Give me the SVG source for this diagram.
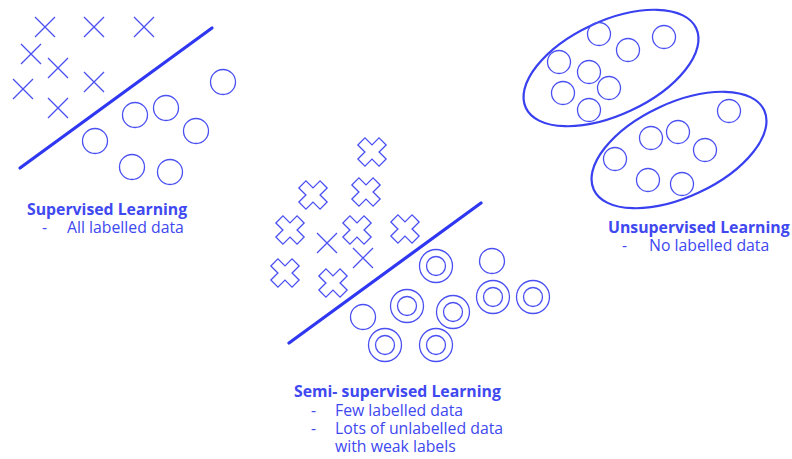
<svg xmlns="http://www.w3.org/2000/svg" xmlns:xlink="http://www.w3.org/1999/xlink" width="792" height="459" viewBox="0 0 792 459">
  <style>
    .thin { fill: none; stroke: #4a50f2; stroke-width: 1.3; }
    .rim { fill: none; stroke: #3840f0; stroke-width: 2.2; }
    .divider { fill: none; stroke: #2f38f0; stroke-width: 3.2; stroke-linecap: round; }
    .title { font-family: "Open Sans", "Noto Sans", "Liberation Sans", sans-serif; font-weight: 700; font-size: 15.8px; fill: #4048f0; }
    .item { font-family: "Open Sans", "Noto Sans", "Liberation Sans", sans-serif; font-size: 15.8px; fill: #4048f0; }
  </style>
  <defs>
    <!-- thin X mark -->
    <path id="xmark" class="thin" d="M-10,-10 L10,10 M10,-10 L-10,10"/>
    <!-- chunky outlined cross (a plus rotated 45 degrees) -->
    <path id="bigx" class="thin" transform="rotate(45)" d="M-5,-15 L5,-15 L5,-5 L15,-5 L15,5 L5,5 L5,15 L-5,15 L-5,5 L-15,5 L-15,-5 L-5,-5 Z"/>
    <circle id="dot" class="thin" r="12.5"/>
    <circle id="dotS" class="thin" r="11.5"/>
    <g id="ring">
      <circle class="thin" r="16.5"/>
      <circle class="thin" r="9.5"/>
    </g>
  </defs>

  <rect width="792" height="459" fill="#ffffff"/>

  <!-- Supervised learning -->
  <g id="supervised">
    <use xlink:href="#xmark" x="45" y="27"/>
    <use xlink:href="#xmark" x="94" y="27"/>
    <use xlink:href="#xmark" x="144" y="27"/>
    <use xlink:href="#xmark" x="31" y="54"/>
    <use xlink:href="#xmark" x="58" y="68"/>
    <use xlink:href="#xmark" x="23" y="89"/>
    <use xlink:href="#xmark" x="94" y="82"/>
    <use xlink:href="#xmark" x="58" y="108"/>
    <line class="divider" x1="20" y1="168" x2="212" y2="28"/>
    <use xlink:href="#dot" x="223" y="82"/>
    <use xlink:href="#dot" x="135" y="115"/>
    <use xlink:href="#dot" x="166" y="108"/>
    <use xlink:href="#dot" x="196" y="131"/>
    <use xlink:href="#dot" x="95" y="141"/>
    <use xlink:href="#dot" x="132" y="167"/>
    <use xlink:href="#dot" x="170" y="172"/>
    <text class="title" x="27" y="215">Supervised Learning</text>
    <text class="item" x="42" y="233">-</text>
    <text class="item" x="67" y="233">All labelled data</text>
  </g>

  <!-- Unsupervised learning -->
  <g id="unsupervised">
    <ellipse class="rim" cx="611" cy="68" rx="94" ry="47" transform="rotate(-25 611 68)"/>
    <ellipse class="rim" cx="679" cy="150" rx="94" ry="47" transform="rotate(-25 679 150)"/>
    <use xlink:href="#dotS" x="599" y="34"/>
    <use xlink:href="#dotS" x="628" y="50"/>
    <use xlink:href="#dotS" x="664" y="37"/>
    <use xlink:href="#dotS" x="559" y="62"/>
    <use xlink:href="#dotS" x="589" y="72"/>
    <use xlink:href="#dotS" x="609" y="88"/>
    <use xlink:href="#dotS" x="563" y="93"/>
    <use xlink:href="#dotS" x="589" y="110"/>
    <use xlink:href="#dotS" x="729" y="111"/>
    <use xlink:href="#dotS" x="651" y="138"/>
    <use xlink:href="#dotS" x="678" y="132"/>
    <use xlink:href="#dotS" x="705" y="150"/>
    <use xlink:href="#dotS" x="615" y="159"/>
    <use xlink:href="#dotS" x="648" y="180"/>
    <use xlink:href="#dotS" x="682" y="184"/>
    <text class="title" x="608" y="233">Unsupervised Learning</text>
    <text class="item" x="622" y="251">-</text>
    <text class="item" x="649" y="251">No labelled data</text>
  </g>

  <!-- Semi-supervised learning -->
  <g id="semi-supervised">
    <use xlink:href="#bigx" x="372" y="152"/>
    <use xlink:href="#bigx" x="313" y="195"/>
    <use xlink:href="#bigx" x="366" y="192"/>
    <use xlink:href="#bigx" x="290" y="230"/>
    <use xlink:href="#bigx" x="357" y="230"/>
    <use xlink:href="#bigx" x="405" y="229"/>
    <use xlink:href="#bigx" x="285" y="273"/>
    <use xlink:href="#bigx" x="333" y="283"/>
    <use xlink:href="#xmark" x="327" y="243"/>
    <use xlink:href="#xmark" x="363" y="258"/>
    <line class="divider" x1="289" y1="343" x2="481" y2="203"/>
    <use xlink:href="#dot" x="363" y="317"/>
    <use xlink:href="#dot" x="492" y="261"/>
    <use xlink:href="#ring" x="436" y="266"/>
    <use xlink:href="#ring" x="407" y="306"/>
    <use xlink:href="#ring" x="453" y="312"/>
    <use xlink:href="#ring" x="493" y="297"/>
    <use xlink:href="#ring" x="533" y="297"/>
    <use xlink:href="#ring" x="385" y="345"/>
    <use xlink:href="#ring" x="436" y="345"/>
    <text class="title" x="294" y="397">Semi- supervised Learning</text>
    <text class="item" x="311" y="416">-</text>
    <text class="item" x="335" y="416">Few labelled data</text>
    <text class="item" x="311" y="434">-</text>
    <text class="item" x="335" y="434">Lots of unlabelled data</text>
    <text class="item" x="335" y="452">with weak labels</text>
  </g>
</svg>
